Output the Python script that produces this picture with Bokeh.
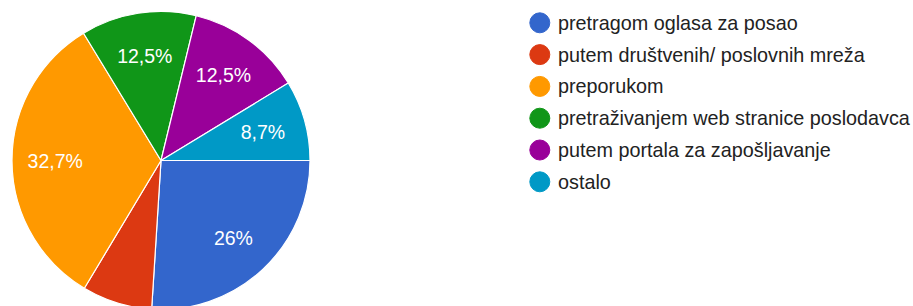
import math
from bokeh.plotting import figure
from bokeh.models import Range1d, ColumnDataSource
from bokeh.core.properties import value
from bokeh.embed import file_html
from bokeh.resources import INLINE

categories = [
    "pretragom oglasa za posao",
    "putem društvenih/ poslovnih mreža",
    "preporukom",
    "pretraživanjem web stranice poslodavca",
    "putem portala za zapošljavanje",
    "ostalo",
]
shares = [26.0, 7.6, 32.7, 12.5, 12.5, 8.7]
slice_labels = ["26%", "", "32,7%", "12,5%", "12,5%", "8,7%"]
colors = ["#3366cc", "#dc3912", "#ff9900", "#109618", "#990099", "#0099c6"]

W, H = 913, 306
FONT = "Liberation Sans"

# data units = pixels; y = 306 - screen y
p = figure(width=W, height=H, output_backend="svg", toolbar_location=None,
           x_range=Range1d(0, W), y_range=Range1d(306 - H, 306),
           min_border=0)
p.axis.visible = False
p.grid.visible = False
p.outline_line_color = None
p.background_fill_color = "white"

cx, cy, R = 160.5, 306 - 160, 149
total = sum(shares)
starts, ends, lx, ly = [], [], [], []
cum = 0.0
for s in shares:
    a0 = cum / total * 2 * math.pi
    cum += s
    a1 = cum / total * 2 * math.pi
    # clockwise from 3 o'clock
    starts.append(-a1)
    ends.append(-a0)
    mid = (a0 + a1) / 2
    lx.append(cx + 0.71 * R * math.cos(-mid))
    ly.append(cy + 0.71 * R * math.sin(-mid))

src = ColumnDataSource(dict(start=starts, end=ends, color=colors,
                            lx=lx, ly=ly, lab=slice_labels))
p.wedge(x=cx, y=cy, radius=R, start_angle="start", end_angle="end",
        direction="anticlock", fill_color="color", line_color="white",
        line_width=1.2, source=src)
p.text(x="lx", y="ly", text="lab", source=src, text_color="white",
       text_font=value(FONT), text_font_size="19.5px",
       text_align="center", text_baseline="middle")

# legend
ys = [306 - (22.3 + i * 31.8) for i in range(len(categories))]
leg = ColumnDataSource(dict(x=[539.3] * len(categories), tx=[557.5] * len(categories),
                            y=ys, color=colors, name=categories))
p.scatter(x="x", y="y", size=20, color="color", source=leg)
p.text(x="tx", y="y", text="name", source=leg, text_color="#222222",
       text_font=value(FONT), text_font_size="19.8px",
       text_align="left", text_baseline="middle")

open("out.html", "w").write(file_html(p, INLINE))
